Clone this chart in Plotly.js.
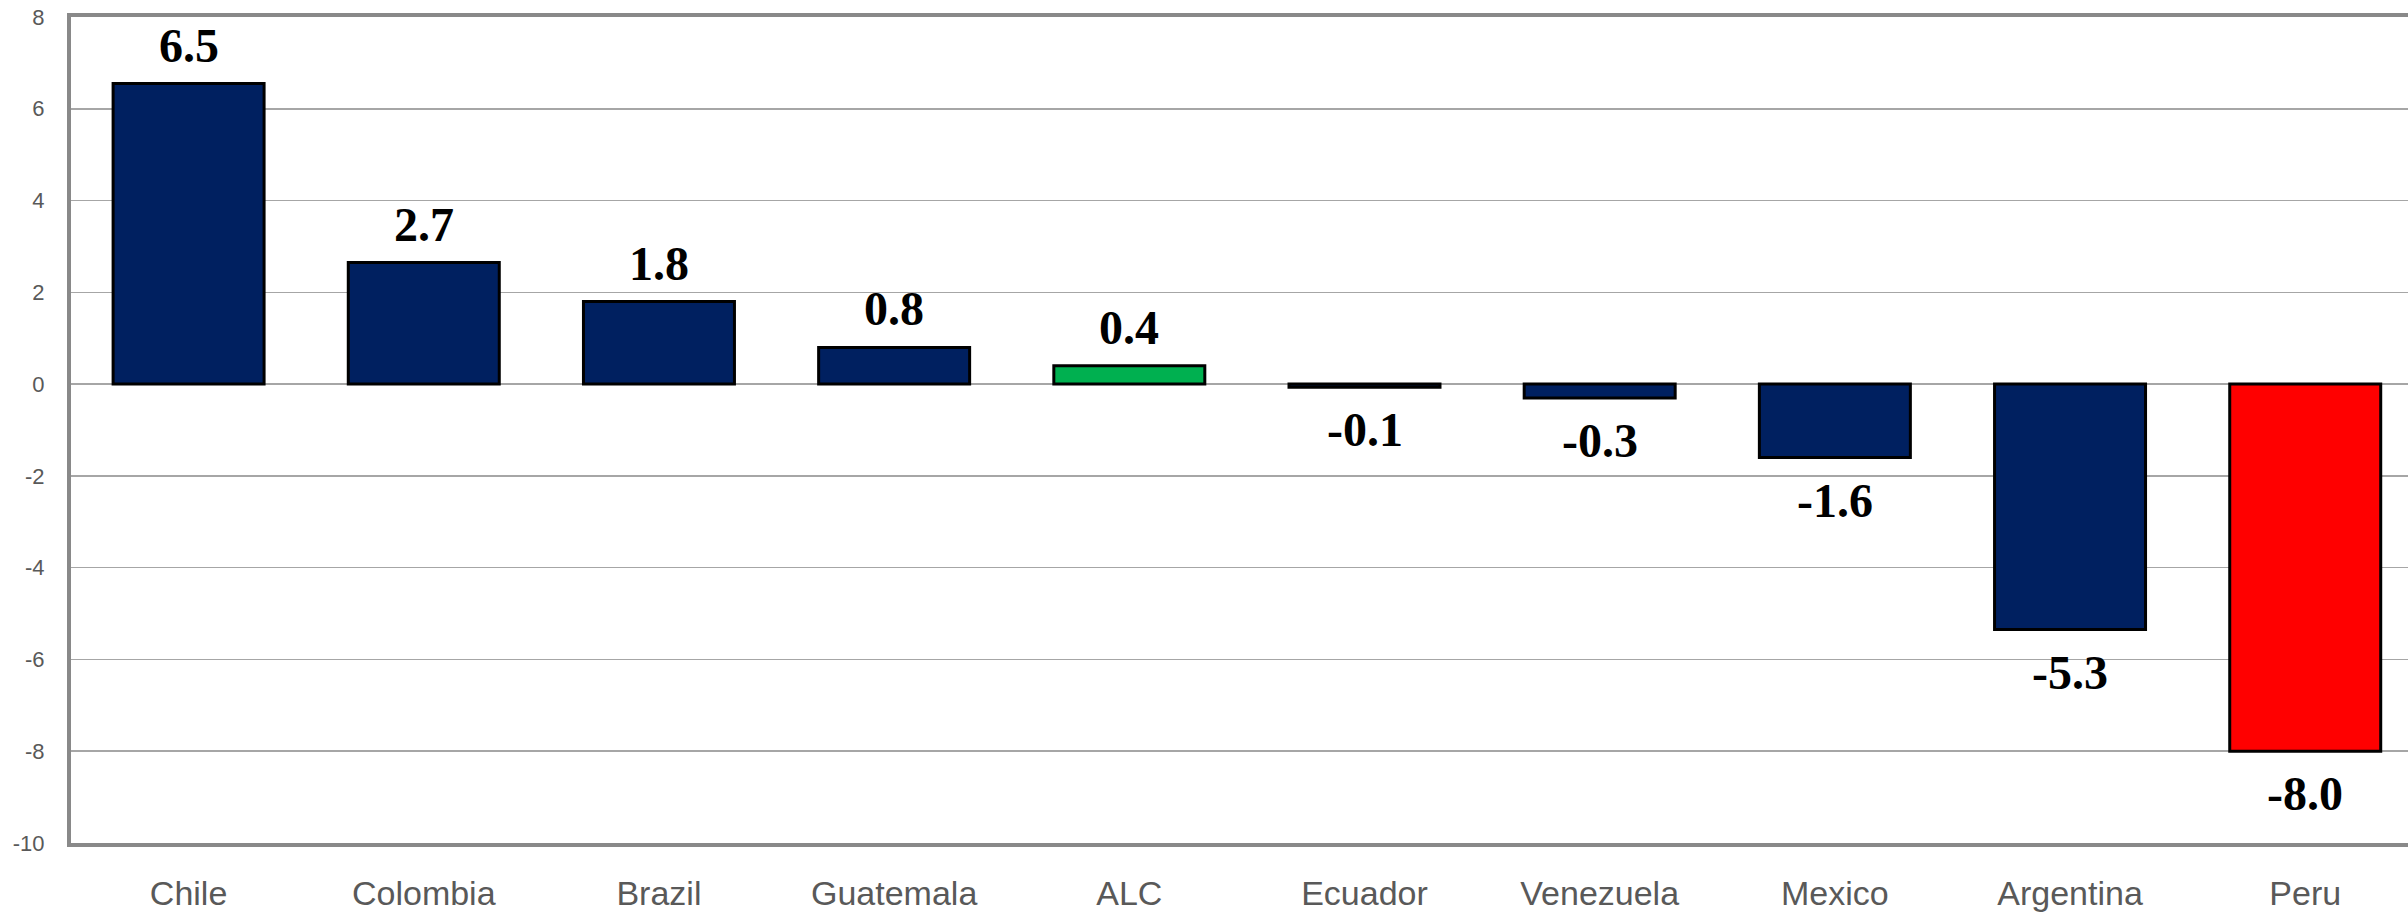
<!DOCTYPE html>
<html>
<head>
<meta charset="utf-8">
<script src="https://cdn.plot.ly/plotly-3.0.1.min.js"></script>
<style>html,body{margin:0;padding:0;background:#fff;}#chart{width:2408px;height:916px;}</style>
</head>
<body>
<div id="chart"></div>
<script>
const countries = ["Chile", "Colombia", "Brazil", "Guatemala", "ALC", "Ecuador", "Venezuela", "Mexico", "Argentina", "Peru"];
const values = [6.55, 2.65, 1.8, 0.8, 0.4, -0.07, -0.3, -1.6, -5.35, -8.0];
const valueLabels = ["6.5", "2.7", "1.8", "0.8", "0.4", "-0.1", "-0.3", "-1.6", "-5.3", "-8.0"];
const barColors = ["#002060", "#002060", "#002060", "#002060", "#00B050", "#002060", "#002060", "#002060", "#002060", "#FF0000"];
const yTicks = [-10, -8, -6, -4, -2, 0, 2, 4, 6, 8];

const trace = {
  type: "bar",
  x: countries,
  y: values,
  marker: { color: barColors, line: { color: "#000000", width: 3 } },
  hoverinfo: "skip"
};

const annotations = countries.map((c, i) => ({
  x: c,
  y: values[i],
  xref: "x",
  yref: "y",
  text: valueLabels[i],
  showarrow: false,
  yanchor: values[i] >= 0 ? "bottom" : "top",
  yshift: values[i] >= 0 ? 10 : -14,
  font: { family: "Liberation Serif, serif", size: 48, color: "#000000", weight: "bold" }
}));

const layout = {
  width: 2408,
  height: 916,
  margin: { l: 71, r: 0, t: 17, b: 73 },
  paper_bgcolor: "#ffffff",
  plot_bgcolor: "#ffffff",
  showlegend: false,
  bargap: 0.358,
  xaxis: {
    type: "category",
    range: [-0.5, 9.437],
    showline: true,
    linecolor: "#898989",
    linewidth: 4,
    mirror: true,
    showgrid: false,
    zeroline: false,
    ticks: "",
    ticklabelstandoff: 17,
    tickfont: { family: "Liberation Sans, Arial, sans-serif", size: 34, color: "#595959" }
  },
  yaxis: {
    range: [-10, 8],
    tickvals: yTicks,
    ticktext: yTicks.map(String),
    showline: true,
    linecolor: "#898989",
    linewidth: 4,
    showgrid: true,
    gridcolor: "#a6a6a6",
    gridwidth: 1.5,
    zeroline: true,
    zerolinecolor: "#a6a6a6",
    zerolinewidth: 1.5,
    ticks: "",
    ticklabelstandoff: 18,
    tickfont: { family: "Liberation Sans, Arial, sans-serif", size: 22, color: "#595959" }
  },
  annotations: annotations
};

Plotly.newPlot("chart", [trace], layout, { staticPlot: true, displayModeBar: false });
</script>
</body>
</html>
